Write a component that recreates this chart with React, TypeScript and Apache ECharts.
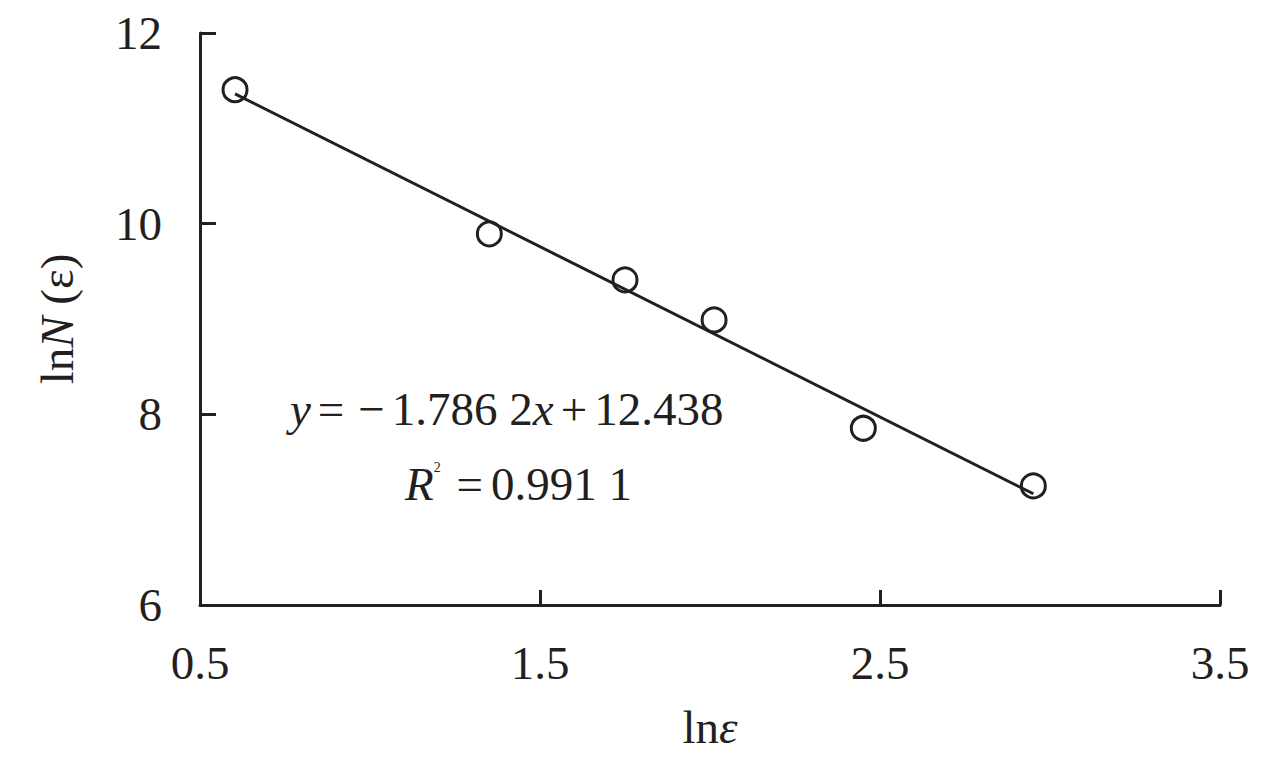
import React, { useEffect, useRef } from "react";
import * as echarts from "echarts";

const lnEps = [0.603, 1.351, 1.75, 2.012, 2.451, 2.951];
const lnN = [11.405, 9.893, 9.41, 8.99, 7.854, 7.249];
const slope = -1.7862;
const intercept = 12.438;
const xTicks = [0.5, 1.5, 2.5, 3.5];
const yTicks = [6, 8, 10, 12];

const FONT = '"Liberation Serif", "Times New Roman", serif';
const INK = "#231f20";

export default function App() {
  const ref = useRef<HTMLDivElement>(null);
  useEffect(() => {
    document.body.style.margin = "0";
    const chart = echarts.init(ref.current!, null, { renderer: "svg" });
    const xs = [lnEps[0], lnEps[lnEps.length - 1]];
    const fit = xs.map((x) => [x, slope * x + intercept]);
    const rt = (extra: any = {}) => ({ fontFamily: FONT, fontSize: 47, fill: INK, ...extra });
    chart.setOption({
      animation: false,
      backgroundColor: "#fff",
      textStyle: { fontFamily: FONT, color: INK },
      grid: { left: 200, right: 65, top: 33, bottom: 159, outerBoundsMode: "none" },
      xAxis: {
        type: "value",
        min: 0.5,
        max: 3.5,
        name: "{a|ln}{b|ε}",
        nameLocation: "middle",
        nameGap: 98,
        nameTextStyle: {
          fontFamily: FONT,
          fontSize: 47,
          color: INK,
          rich: {
            a: { fontFamily: FONT, fontSize: 47, color: INK },
            b: { fontFamily: FONT, fontSize: 47, color: INK, fontStyle: "italic" },
          },
        },
        axisLine: { show: true, lineStyle: { color: INK, width: 3 } },
        axisTick: { show: true, inside: true, length: 15, lineStyle: { color: INK, width: 3 }, customValues: xTicks },
        axisLabel: { fontFamily: FONT, fontSize: 47, color: INK, margin: 34, customValues: xTicks, showMinLabel: true, showMaxLabel: true },
        splitLine: { show: false },
      },
      yAxis: {
        type: "value",
        min: 6,
        max: 12,
        interval: 2,
        name: "{a|ln}{b|N}{a| (ε)}",
        nameLocation: "middle",
        nameRotate: 90,
        nameGap: 120,
        nameTextStyle: {
          fontFamily: FONT,
          fontSize: 47,
          color: INK,
          rich: {
            a: { fontFamily: FONT, fontSize: 47, color: INK },
            b: { fontFamily: FONT, fontSize: 47, color: INK, fontStyle: "italic" },
          },
        },
        axisLine: { show: true, lineStyle: { color: INK, width: 3 } },
        axisTick: { show: true, inside: true, length: 16, lineStyle: { color: INK, width: 3 }, customValues: yTicks },
        axisLabel: { fontFamily: FONT, fontSize: 47, color: INK, margin: 38, customValues: yTicks },
        splitLine: { show: false },
      },
      graphic: [
        {
          type: "text",
          left: 290,
          top: 385,
          style: {
            text: "{i|y}{o|=}{o|−}{n|1.786 2}{i|x}{o|+}{n|12.438}",
            rich: {
              i: rt({ fontStyle: "italic" }),
              n: rt(),
              o: rt({ padding: [0, 7, 0, 7] }),
            },
          },
        },
        {
          type: "text",
          left: 405,
          top: 460,
          style: {
            text: "{i|R}{s|2}{o| =}{n|0.991 1}",
            rich: {
              i: rt({ fontStyle: "italic" }),
              s: rt({ fontSize: 14, verticalAlign: "top", padding: [0, 0, 22, 0] }),
              o: rt({ padding: [0, 8, 0, 4] }),
              n: rt(),
            },
          },
        },
      ],
      series: [
        {
          type: "line",
          data: fit,
          symbol: "none",
          lineStyle: { color: INK, width: 3 },
          z: 2,
        },
        {
          type: "scatter",
          data: lnEps.map((x, i) => [x, lnN[i]]),
          symbol: "circle",
          symbolSize: 24,
          itemStyle: { color: "rgba(255,255,255,0)", borderColor: INK, borderWidth: 3, opacity: 1 },
          z: 3,
        },
      ],
    });
    return () => chart.dispose();
  }, []);
  return <div ref={ref} style={{ width: 1285, height: 764 }} />;
}
